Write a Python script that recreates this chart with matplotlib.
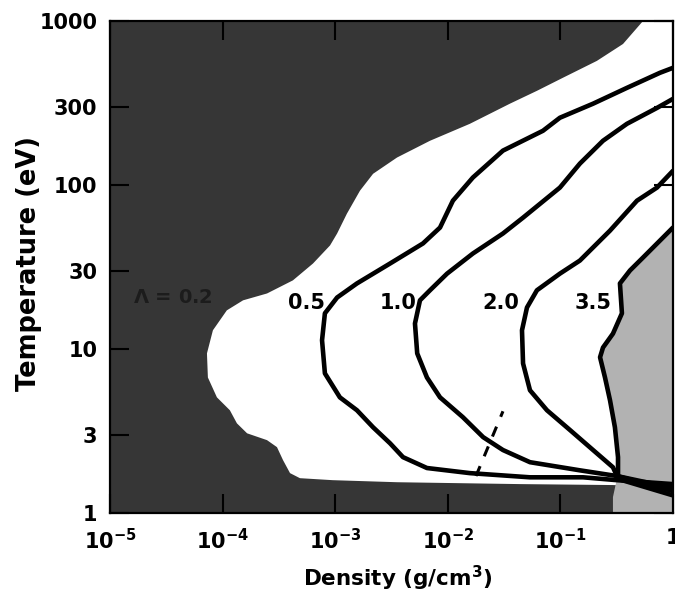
import numpy as np
import matplotlib.pyplot as plt
from matplotlib.ticker import FixedLocator, NullLocator

plt.rcParams['font.family'] = 'DejaVu Sans'
plt.rcParams['font.weight'] = 'bold'
plt.rcParams['mathtext.fontset'] = 'dejavusans'
plt.rcParams['mathtext.default'] = 'bf'

# boundary of the dark (Lambda < 0.2) region
lam02_d = [0.542, 0.36, 0.211, 0.105, 0.0619, 0.0356, 0.0157, 0.00695, 0.00354,
           0.00217, 0.00166, 0.00127, 0.00104, 0.0009, 0.000635, 0.000421,
           0.000248, 0.000152, 0.000109, 8.2e-5, 7.26e-5, 7.4e-5, 8.9e-5,
           1.16e-4, 1.34e-4, 1.65e-4, 2.48e-4, 3.04e-4, 3.44e-4, 3.97e-4,
           4.86e-4, 9.5e-4, 3.54e-3, 0.0437, 0.293, 1.0]
lam02_T = [1000, 724, 571, 450, 375, 313, 236, 186, 147, 117, 92.3, 66.8, 50.6,
           42.8, 33.2, 26.2, 21.8, 19.8, 17.2, 13.0, 9.4, 6.7, 5.07, 4.23, 3.52,
           3.06, 2.78, 2.52, 2.10, 1.75, 1.63, 1.585, 1.54, 1.50, 1.48, 1.44]

# Lambda = 0.5, 1.0, 2.0 contours
c05_d = [1.0, 0.766, 0.390, 0.195, 0.099, 0.070, 0.0309, 0.0167, 0.0111, 0.00853,
         0.00602, 0.00307, 0.00156, 0.00104, 0.00081, 0.000764, 0.00081, 0.0011,
         0.00156, 0.00217, 0.00307, 0.0040, 0.00653, 0.0157, 0.0537, 0.159,
         0.318, 1.0]
c05_T = [518, 483, 391, 313, 257, 214, 162, 111, 80.2, 55.0, 44.0, 33.2, 25.1,
         20.6, 16.5, 11.3, 7.10, 5.07, 4.23, 3.33, 2.66, 2.19, 1.88, 1.75, 1.65,
         1.65, 1.585, 1.50]

c10_d = [1.0, 0.721, 0.390, 0.239, 0.149, 0.099, 0.0466, 0.0309, 0.0167, 0.00985,
         0.00695, 0.00566, 0.00511, 0.00535, 0.00653, 0.00853, 0.0136, 0.0206,
         0.0309, 0.0537, 0.149, 0.318, 1.0]
c10_T = [335, 295, 236, 186, 135, 96.4, 63.2, 50.6, 38.2, 28.8, 22.8, 19.8, 14.3,
         9.4, 6.7, 5.07, 3.84, 2.90, 2.42, 2.04, 1.82, 1.68, 1.42]

c20_d = [1.0, 0.721, 0.479, 0.276, 0.149, 0.099, 0.0619, 0.0505, 0.0456, 0.0466,
         0.0537, 0.076, 0.122, 0.195, 0.293, 0.318, 1.0]
c20_T = [122, 96.4, 80.2, 52.7, 34.6, 28.8, 22.8, 17.9, 13.0, 8.16, 5.60, 4.23,
         3.20, 2.42, 1.90, 1.68, 1.36]

# Lambda = 3.5 : edge of the light shaded region
c35_d = [1.0, 0.542, 0.415, 0.338, 0.352, 0.293, 0.239, 0.225, 0.249, 0.276,
         0.305, 0.325, 0.325, 0.318]
c35_T = [55.0, 36.1, 30.1, 25.1, 16.5, 12.4, 10.2, 8.9, 6.7, 4.86, 3.33, 2.19,
         1.70, 1.62]
c35_end_T = 1.28
light_low_d = 0.293   # left edge of light region below the line bundle
light_low_T = 1.25

dash_d = [0.0178, 0.0309]
dash_T = [1.68, 4.17]

labels = ['0.5', '1.0', '2.0', '3.5']
label_d = [5.6e-4, 3.6e-3, 0.0296, 0.195]
label_T = 19.2

xticks = [1e-5, 1e-4, 1e-3, 1e-2, 1e-1, 1]
xticklabels = [r'$10^{-5}$', r'$10^{-4}$', r'$10^{-3}$', r'$10^{-2}$', r'$10^{-1}$', '1']
yticks = [1, 3, 10, 30, 100, 300, 1000]

dark = '#363636'
light = '#b2b2b2'
lw = 3.3

fig = plt.figure(figsize=(6.75, 5.94), dpi=100)
ax = fig.add_axes([0.163, 0.1364, 0.834, 0.8283])
ax.set_xscale('log')
ax.set_yscale('log')
ax.set_xlim(1e-5, 1)
ax.set_ylim(1, 1000)
ax.set_facecolor(dark)

# white region (Lambda > 0.2)
wx = lam02_d + [1.0]
wy = lam02_T + [1000]
ax.fill(wx, wy, color='white', lw=0, zorder=1)

# light region (Lambda > 3.5)
lx = c35_d + [light_low_d, light_low_d, 1.0]
ly = c35_T + [light_low_T, 1.0, 1.0]
ax.fill(lx, ly, color=light, lw=0, zorder=2)

kw = dict(color='black', lw=lw, solid_capstyle='round', solid_joinstyle='round', zorder=3)
ax.plot(c05_d, c05_T, **kw)
ax.plot(c10_d, c10_T, **kw)
ax.plot(c20_d, c20_T, **kw)
ax.plot(c35_d + [1.0], c35_T + [c35_end_T], **kw)
ax.plot(dash_d, dash_T, color='black', lw=2.2, dashes=(3.5, 3.5), zorder=3)

for s, d in zip(labels, label_d):
    ax.text(d, label_T, s, fontsize=15, fontweight='bold', ha='center', va='center', zorder=4)
ax.text(3.56e-5, 20.6, r'$\Lambda$ = 0.2', fontsize=14, fontweight='bold',
        color='#1c1c1c', ha='center', va='center', zorder=4)

ax.xaxis.set_major_locator(FixedLocator(xticks))
ax.xaxis.set_minor_locator(NullLocator())
ax.set_xticklabels(xticklabels)
ax.yaxis.set_major_locator(FixedLocator(yticks))
ax.yaxis.set_minor_locator(NullLocator())
ax.set_yticklabels([str(v) for v in yticks])
ax.tick_params(which='major', direction='in', length=14, width=1.5,
               labelsize=15, top=True, right=True, pad=9)
ax.tick_params(axis='x', pad=11)
for sp in ax.spines.values():
    sp.set_linewidth(1.6)
    sp.set_zorder(5)

ax.set_xlabel('Density (g/cm$^3$)', fontsize=15.5, fontweight='bold')
ax.xaxis.set_label_coords(0.51, -0.104)
ax.set_ylabel('Temperature (eV)', fontsize=18.5, fontweight='bold')
ax.yaxis.set_label_coords(-0.121, 0.508)

fig.savefig('out.png', dpi=100)
